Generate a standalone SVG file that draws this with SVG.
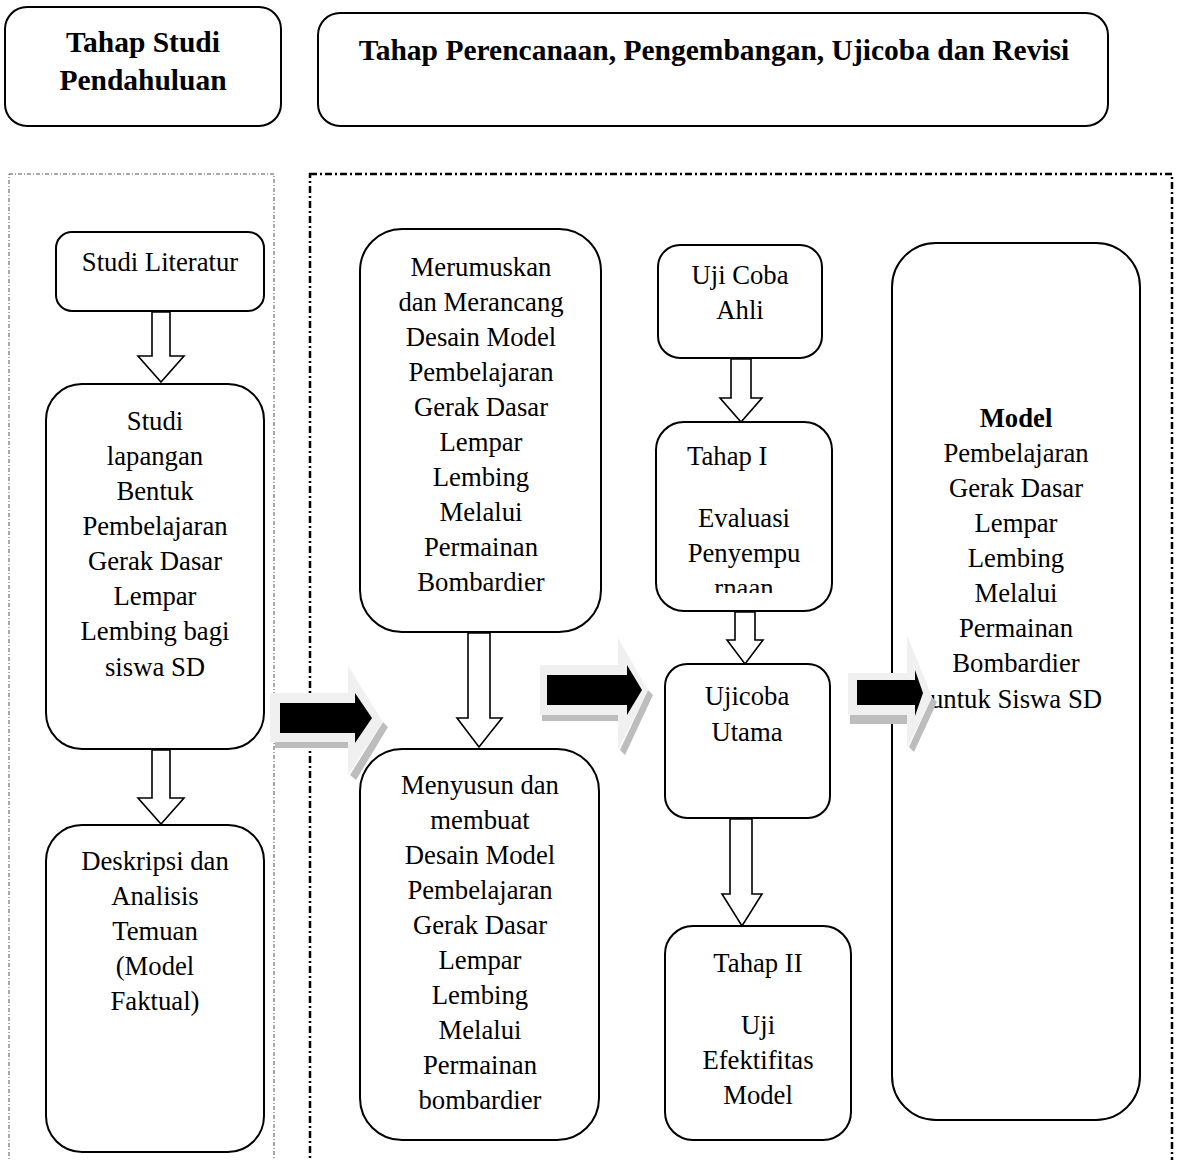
<svg xmlns="http://www.w3.org/2000/svg" width="1177" height="1160" viewBox="0 0 1177 1160">
<style>
text{font-family:"Liberation Serif","Times New Roman",serif;font-size:26.7px;fill:#000;text-anchor:middle}
.b{font-weight:bold}
.hd{font-weight:bold;font-size:29.5px}
.l{text-anchor:start}
.box{fill:#fff;stroke:#000;stroke-width:2}
.hol{fill:#fff;stroke:#000;stroke-width:1.6}
.lt{fill:#f0f0f0}
.sh{fill:#bdbdbd}
.bk{fill:#000}
</style>
<defs>
<clipPath id="c1"><rect x="656" y="422" width="176" height="171"/></clipPath>
</defs>
<rect x="9" y="174" width="265" height="1000" fill="none" stroke="#555" stroke-width="1" stroke-dasharray="4,2,1,2"/>
<rect x="310" y="174" width="862" height="1000" fill="none" stroke="#000" stroke-width="2.5" stroke-dasharray="7,3,2,3"/>
<g id="h1"><rect class="box" x="5" y="7" width="276" height="119" rx="22"/><text class="hd" x="143" y="52">Tahap Studi</text><text class="hd" x="143" y="90">Pendahuluan</text></g>
<g id="h2"><rect class="box" x="318" y="13" width="790" height="113" rx="22"/><text class="hd" x="714" y="60">Tahap Perencanaan, Pengembangan, Ujicoba dan Revisi</text></g>
<g id="n1"><rect class="box" x="56" y="232" width="208" height="79" rx="16"/><text x="160" y="271">Studi Literatur</text></g>
<g id="n2"><rect class="box" x="46" y="384" width="218" height="365" rx="36"/><text x="155" y="430">Studi</text><text x="155" y="465">lapangan</text><text x="155" y="500">Bentuk</text><text x="155" y="535">Pembelajaran</text><text x="155" y="570">Gerak Dasar</text><text x="155" y="605">Lempar</text><text x="155" y="640">Lembing bagi</text><text x="155" y="676">siswa SD</text></g>
<g id="n3"><rect class="box" x="46" y="825" width="218" height="327" rx="36"/><text x="155" y="870">Deskripsi dan</text><text x="155" y="905">Analisis</text><text x="155" y="940">Temuan</text><text x="155" y="975">(Model</text><text x="155" y="1010">Faktual)</text></g>
<g id="n4"><rect class="box" x="360" y="229" width="241" height="403" rx="42"/><text x="481" y="276">Merumuskan</text><text x="481" y="311">dan Merancang</text><text x="481" y="346">Desain Model</text><text x="481" y="381">Pembelajaran</text><text x="481" y="416">Gerak Dasar</text><text x="481" y="451">Lempar</text><text x="481" y="486">Lembing</text><text x="481" y="521">Melalui</text><text x="481" y="556">Permainan</text><text x="481" y="591">Bombardier</text></g>
<g id="n5"><rect class="box" x="360" y="749" width="239" height="391" rx="42"/><text x="480" y="794">Menyusun dan</text><text x="480" y="829">membuat</text><text x="480" y="864">Desain Model</text><text x="480" y="899">Pembelajaran</text><text x="480" y="934">Gerak Dasar</text><text x="480" y="969">Lempar</text><text x="480" y="1004">Lembing</text><text x="480" y="1039">Melalui</text><text x="480" y="1074">Permainan</text><text x="480" y="1109">bombardier</text></g>
<g id="n6"><rect class="box" x="658" y="245" width="164" height="113" rx="22"/><text x="740" y="284">Uji Coba</text><text x="740" y="319">Ahli</text></g>
<g id="n7"><rect class="box" x="656" y="422" width="176" height="189" rx="28"/><g clip-path="url(#c1)"><text class="l" x="687" y="465">Tahap I</text><text x="744" y="527">Evaluasi</text><text x="744" y="562">Penyempu</text><text x="744" y="597">rnaan</text></g></g>
<g id="n8"><rect class="box" x="665" y="664" width="165" height="154" rx="22"/><text x="747" y="705">Ujicoba</text><text x="747" y="741">Utama</text></g>
<g id="n9"><rect class="box" x="665" y="926" width="186" height="214" rx="28"/><text x="758" y="972">Tahap II</text><text x="758" y="1034">Uji</text><text x="758" y="1069">Efektifitas</text><text x="758" y="1104">Model</text></g>
<g id="n10"><rect class="box" x="892" y="243" width="248" height="877" rx="44"/><text class="b" x="1016" y="427">Model</text><text x="1016" y="462">Pembelajaran</text><text x="1016" y="497">Gerak Dasar</text><text x="1016" y="532">Lempar</text><text x="1016" y="567">Lembing</text><text x="1016" y="602">Melalui</text><text x="1016" y="637">Permainan</text><text x="1016" y="672">Bombardier</text><text x="1016" y="708">untuk Siswa SD</text></g>
<g id="connectors">
<path class="hol" d="M152,312 V356 H138 L161,382 L184,356 H170 V312 Z"/>
<path class="hol" d="M152,750 V798 H138 L161,824 L184,798 H170 V750 Z"/>
<path class="hol" d="M468,633 V718 H457 L479,747 L502,718 H490 V633 Z"/>
<path class="hol" d="M731,359 V398 H720 L741,422 L762,398 H751 V359 Z"/>
<path class="hol" d="M735,612 V640 H727 L745,664 L763,640 H755 V612 Z"/>
<path class="hol" d="M730,819 V894 H722 L742,926 L762,894 H752 V819 Z"/>
<g>
<path class="sh" d="M275,742 H348 V748 H275 Z M383,722 L350,775 L356,780 L388,727 Z"/>
<path class="lt" d="M270,693 H348 V666 L383,722 L348,775 V742 H270 Z"/>
<path class="bk" d="M280,703 H355 V693 L372,718 L355,743 V733 H280 Z"/>
</g>
<g>
<path class="sh" d="M542,715 H618 V721 H542 Z M648,690 L620,750 L625,755 L653,695 Z"/>
<path class="lt" d="M540,665 H618 V638 L648,690 L618,750 V715 H540 Z"/>
<path class="bk" d="M547,675 H627 V665 L642,690 L627,715 V705 H547 Z"/>
</g>
<g>
<path class="sh" d="M850,715 H907 V724 H850 Z M932,697 L909,747 L914,752 L937,702 Z"/>
<path class="lt" d="M848,673 H907 V635 L932,697 L907,748 V715 H848 Z"/>
<path class="bk" d="M857,680 H915 V670 L923,693 L915,716 V705 H857 Z"/>
</g>
</g>
</svg>
